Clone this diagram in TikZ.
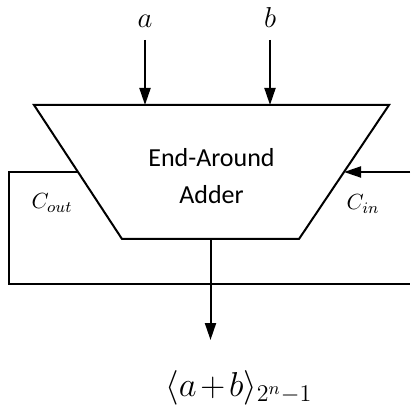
\documentclass[tikz,border=0pt]{standalone}
\usepackage{fontspec}
\newfontfamily\adderfont{Carlito}
\usetikzlibrary{arrows.meta,positioning,calc}
\tikzset{
  addtext/.style={align=center, inner sep=0pt, font=\adderfont\fontsize{13}{18.5}\selectfont},
  lbl/.style={font=\fontsize{14.5}{16}\selectfont, inner sep=0pt},
  clbl/.style={font=\fontsize{11}{13}\selectfont, inner sep=0pt},
  wire/.style={draw, line width=1pt},
  flow/.style={wire, -{Triangle[length=8.5pt,width=5.5pt]}}
}
\begin{document}
\begin{tikzpicture}[x=0.5pt,y=-0.5pt]
  \useasboundingbox (0,0) rectangle (410,415);
  % adder outline
  \coordinate (tl) at (34,105);
  \coordinate (tr) at (389,105);
  \coordinate (br) at (299,239);
  \coordinate (bl) at (122,239);
  \draw[wire, line join=miter] (tl) -- (tr) -- (br) -- (bl) -- cycle;
  \coordinate (lmid) at ($(tl)!0.5!(bl)$);
  \coordinate (rmid) at ($(tr)!0.5!(br)$);
  \coordinate (bmid) at ($(bl)!0.5!(br)$);
  \node[addtext] (add) at (211.5,176.5) {End-Around\\Adder};
  \node[lbl, anchor=south] (a) at (145,28) {$a$};
  \node[lbl, anchor=south] (b) at (270,28) {$b$};
  \node[lbl, anchor=west, font=\fontsize{17.5}{20}\selectfont] (sum) at (165,388)
    {$\langle a\mkern2mu{+}\mkern2mu b\rangle_{2^n-1}$};
  \node[clbl] (cout) at (52,203) {$C_{out}$};
  \node[clbl] (cin) at (363,204) {$C_{in}$};
  \coordinate (rin) at (410,172);
  \coordinate (lp) at (9,284);
  \coordinate (rp) at (410,284);
  \coordinate (out) at ($(bmid)+(0,101)$);
  \draw[flow, shorten <=6pt] (a.south) -- (a.south |- tl);
  \draw[flow, shorten <=6pt] (b.south) -- (b.south |- tl);
  \draw[flow] (bmid) -- (out);
  \draw[flow] (rin) -- (rmid);
  \draw[wire] (lmid) -| (lp) -- (rp);
\end{tikzpicture}
\end{document}
